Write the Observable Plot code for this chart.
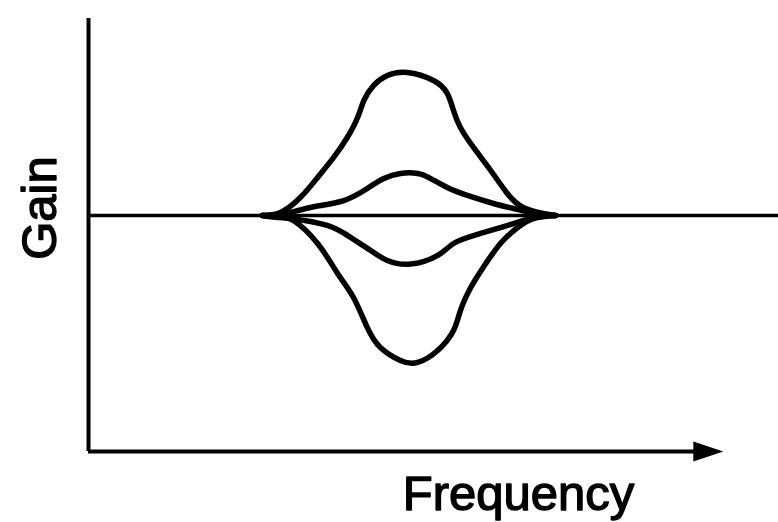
<!DOCTYPE html>
<html>
<head>
<meta charset="utf-8">
<script src="https://cdn.jsdelivr.net/npm/d3@7"></script>
<script src="https://cdn.jsdelivr.net/npm/@observablehq/plot@0.6"></script>
<style>
  html, body { margin: 0; padding: 0; background: #fff; }
</style>
</head>
<body>
<div id="chart"></div>
<script>
// Axis extents (arbitrary units: frequency 0–100, gain in dB)
const freqDomain = [0, 100];
const gainDomain = [-19.67, 16.42];
const freqAxisEnd = 92;      // where the frequency arrow points
const axisLabels = { x: "Frequency", y: "Gain" };

// Curve 1: large boost
const boostBigFreq = [25.2, 27.8, 30.7, 33.2, 35.5, 37.5, 39.0, 39.9, 41.3, 43.3, 46.2, 50.0, 52.0, 52.9, 53.9, 55.8, 58.3, 60.7, 63.0, 65.9, 67.7];
const boostBigGain = [0, 0.25, 1.5, 3.17, 4.83, 6.5, 8.17, 9.58, 10.83, 11.67, 11.92, 11.25, 10.17, 8.75, 7.33, 5.67, 3.75, 1.83, 0.67, 0.17, 0];

// Curve 2: small boost
const boostSmallFreq = [25.2, 28.6, 32.2, 37.0, 40.4, 42.8, 45.2, 47.7, 49.6, 52.0, 54.9, 58.7, 61.6, 64.8, 67.7];
const boostSmallGain = [0, 0.17, 0.67, 1.25, 2.25, 3.08, 3.5, 3.5, 3.08, 2.33, 1.67, 1.0, 0.58, 0.17, 0];

// Curve 3: small cut
const cutSmallFreq = [25.2, 29.3, 34.6, 38.0, 40.9, 43.3, 46.7, 50.6, 52.9, 55.8, 59.3, 61.6, 64.8, 67.7];
const cutSmallGain = [0, -0.25, -0.83, -1.83, -2.92, -3.75, -4.05, -3.33, -2.33, -1.67, -1.08, -0.67, -0.17, 0];

// Curve 4: large cut
const cutBigFreq = [25.2, 27.8, 29.7, 33.2, 36.1, 38.4, 40.4, 42.3, 45.2, 47.7, 50.6, 52.9, 53.9, 55.4, 57.2, 59.7, 62.2, 64.5, 67.7];
const cutBigGain = [0, -0.17, -0.42, -2.33, -4.83, -6.83, -9.33, -11.0, -12.08, -12.25, -11.25, -9.58, -7.92, -6.0, -4.33, -2.33, -1.0, -0.25, 0];

const series = [
  { name: "boost big", f: boostBigFreq, g: boostBigGain },
  { name: "boost small", f: boostSmallFreq, g: boostSmallGain },
  { name: "cut small", f: cutSmallFreq, g: cutSmallGain },
  { name: "cut big", f: cutBigFreq, g: cutBigGain }
];
const rows = series.flatMap(s => s.f.map((f, i) => ({ series: s.name, freq: f, gain: s.g[i] })));

const font = "'Liberation Sans', Arial, Helvetica, sans-serif";

// filled arrowhead shape for Plot.vector
const arrowHead = {
  draw(context, l, r) {
    context.moveTo(0, -l);
    context.lineTo(r, 0);
    context.lineTo(-r, 0);
    context.closePath();
  }
};

const chart = Plot.plot({
  width: 778,
  height: 522,
  marginLeft: 88,
  marginRight: 0,
  marginTop: 18,
  marginBottom: 71,
  x: { domain: freqDomain, axis: null },
  y: { domain: gainDomain, axis: null },
  style: { background: "white", fontFamily: font, color: "black" },
  marks: [
    // flat response line
    Plot.ruleY([0], { stroke: "black", strokeWidth: 3.5 }),
    // gain axis
    Plot.ruleX([freqDomain[0]], { stroke: "black", strokeWidth: 4 }),
    // frequency axis with arrow
    Plot.ruleY([gainDomain[0]], { x1: freqDomain[0], x2: freqAxisEnd - 3, stroke: "black", strokeWidth: 4 }),
    Plot.vector([freqAxisEnd], {
      x: d => d, y: () => gainDomain[0],
      length: 30, r: 10, rotate: 90, anchor: "end",
      shape: arrowHead, fill: "black", stroke: "none"
    }),
    // EQ curves
    Plot.line(rows, {
      x: "freq", y: "gain", z: "series",
      curve: "natural",
      stroke: "black", strokeWidth: 5.5,
      strokeLinejoin: "round", strokeLinecap: "round"
    }),
    // axis labels
    Plot.text([axisLabels.y], {
      frameAnchor: "left", rotate: -90, dx: -48, dy: -27,
      fontSize: 49, fontWeight: "normal", fill: "black",
      stroke: "black", strokeWidth: 1.4,
      textAnchor: "middle", lineAnchor: "middle"
    }),
    Plot.text([axisLabels.x], {
      frameAnchor: "bottom", dx: 85, dy: 24,
      fontSize: 49, fontWeight: "normal", fill: "black",
      stroke: "black", strokeWidth: 1.4,
      textAnchor: "middle", lineAnchor: "top"
    })
  ]
});

document.getElementById("chart").appendChild(chart);
</script>
</body>
</html>
